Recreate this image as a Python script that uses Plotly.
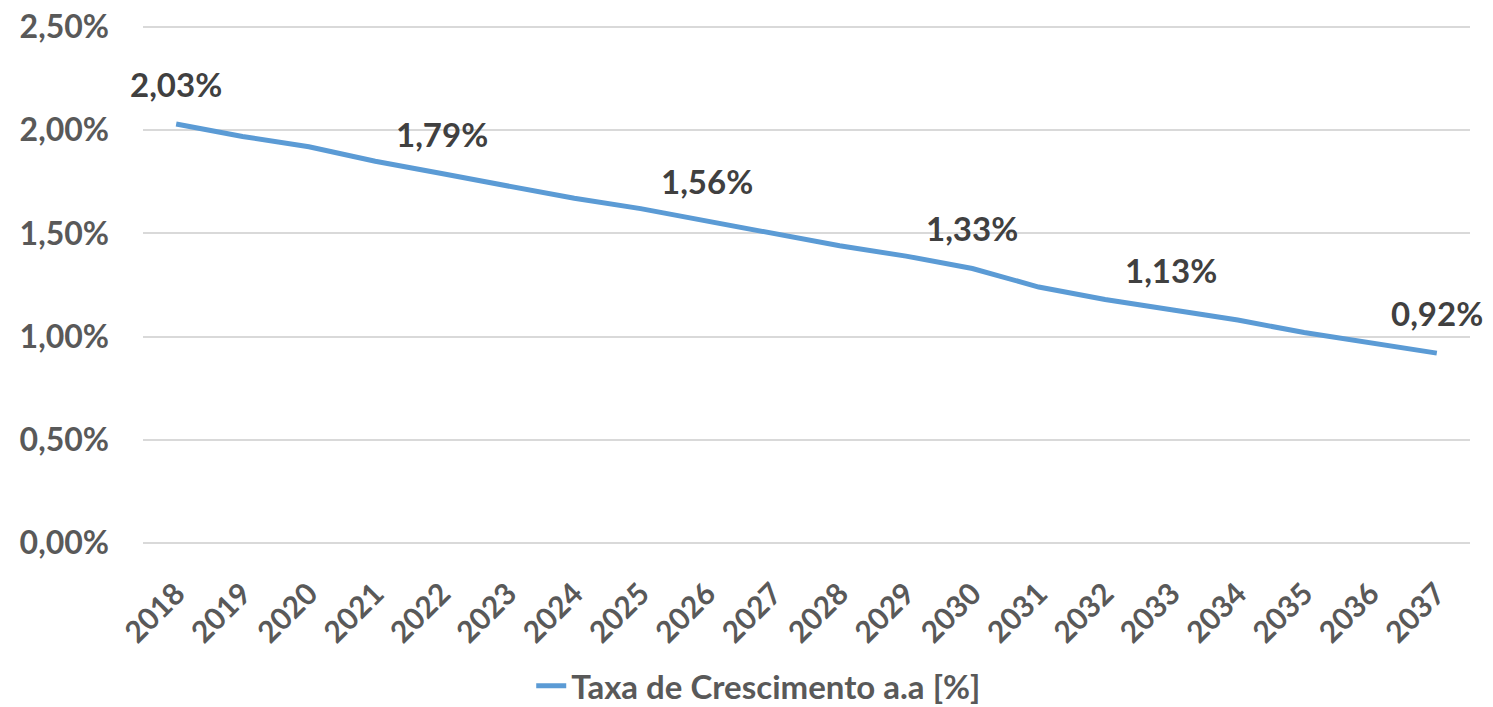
import plotly.graph_objects as go

years = [str(y) for y in range(2018, 2038)]
taxa = [2.03, 1.97, 1.92, 1.85, 1.79, 1.73, 1.67, 1.62, 1.56, 1.50,
        1.44, 1.39, 1.33, 1.24, 1.18, 1.13, 1.08, 1.02, 0.97, 0.92]
label_years = ["2018", "2022", "2026", "2030", "2033", "2037"]
y_ticks = [0, 0.5, 1.0, 1.5, 2.0, 2.5]
y_tick_text = ["0,00%", "0,50%", "1,00%", "1,50%", "2,00%", "2,50%"]
series_name = "Taxa de Crescimento a.a [%]"

FONT = "Lato"
fig = go.Figure()
fig.add_trace(go.Scatter(
    x=years, y=taxa, mode="lines", name=f"<b>{series_name}</b>",
    line=dict(color="#5B9BD5", width=5),
))

for yr in label_years:
    i = years.index(yr)
    v = taxa[i]
    fig.add_annotation(
        x=i, y=v, xref="x", yref="y",
        text="<b>" + f"{v:.2f}".replace(".", ",") + "%</b>",
        showarrow=False, yshift=40,
        font=dict(family=FONT, size=33, color="#404040"),
    )

fig.update_layout(
    width=1493, height=707,
    margin=dict(l=143, r=23, t=25, b=162, autoexpand=False),
    plot_bgcolor="white", paper_bgcolor="white",
    showlegend=True,
    legend=dict(orientation="h", x=0.464, xanchor="center", y=-0.271, yanchor="middle",
                font=dict(family=FONT, size=33, color="#595959")),
    font=dict(family=FONT, color="#595959"),
)
fig.update_xaxes(
    type="category", range=[-0.5, 19.5], tickangle=-45, automargin=False,
    tickfont=dict(family=FONT, size=30, color="#595959", weight="bold"),
    showgrid=False, showline=False, ticks="", ticklabelstandoff=24,
)
fig.update_yaxes(
    range=[-0.01, 2.51], tickvals=y_ticks,
    ticktext=[f"<b>{t}</b>" for t in y_tick_text], automargin=False,
    tickfont=dict(family=FONT, size=32, color="#595959"),
    showgrid=True, gridcolor="#D9D9D9", gridwidth=1.5, zeroline=False,
    ticks="", ticklabelstandoff=33,
)

fig.write_html("out.html", config={"displayModeBar": False},
               post_script="document.body.style.margin='0';")
